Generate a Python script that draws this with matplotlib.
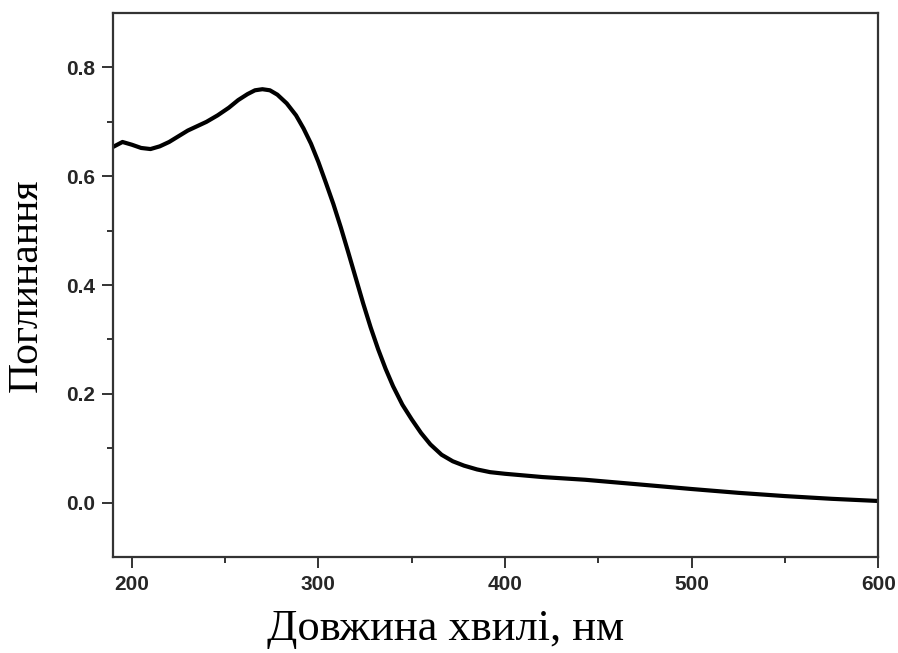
import numpy as np
import matplotlib.pyplot as plt

# Absorption spectrum, values
wavelength = [190, 195, 200, 205, 210, 215, 220, 230, 240, 246, 252, 257,
              262, 266, 270, 274, 278, 283, 288, 292, 296, 300, 304, 308,
              312, 316, 320, 324, 328, 332, 336, 340, 345, 350, 355, 360,
              366, 372, 378, 385, 392, 400, 420, 443, 470, 500, 525, 550,
              575, 600]
absorb = [0.654, 0.663, 0.658, 0.652, 0.650, 0.655, 0.663, 0.684, 0.700,
          0.712, 0.726, 0.740, 0.751, 0.758, 0.760, 0.758, 0.750, 0.734,
          0.712, 0.688, 0.660, 0.626, 0.588, 0.549, 0.506, 0.460, 0.413,
          0.366, 0.322, 0.282, 0.246, 0.214, 0.180, 0.153, 0.128, 0.107,
          0.088, 0.076, 0.068, 0.061, 0.056, 0.053, 0.047, 0.042, 0.034,
          0.025, 0.018, 0.012, 0.007, 0.003]

xticks = [200, 300, 400, 500, 600]
yticks = [0.0, 0.2, 0.4, 0.6, 0.8]

fig = plt.figure(figsize=(8.98, 6.53), dpi=100)
ax = fig.add_axes([0.126, 0.147, 0.852, 0.833])

ax.plot(wavelength, absorb, color='black', lw=3.0, solid_capstyle='round',
        solid_joinstyle='round')

ax.set_xlim(190, 600)
ax.set_ylim(-0.1, 0.9)
ax.set_xticks(xticks)
ax.set_xticks(np.arange(250, 600, 100), minor=True)
ax.set_yticks(yticks)
ax.set_yticks([0.1, 0.3, 0.5, 0.7], minor=True)
ax.set_yticklabels(['%.1f' % v for v in yticks])

for s in ax.spines.values():
    s.set_linewidth(1.6)
    s.set_color('#333333')
ax.tick_params(which='major', length=8, width=1.4, color='#333333',
               labelsize=15, labelcolor='#262626', pad=5)
ax.tick_params(which='minor', length=4, width=1.4, color='#333333')
for lab in ax.get_xticklabels() + ax.get_yticklabels():
    lab.set_family(['Liberation Sans', 'DejaVu Sans'])
    lab.set_fontweight('bold')

ax.set_xlabel('Довжина хвилі, нм', family=['Liberation Serif', 'DejaVu Serif'],
              fontsize=32)
ax.xaxis.set_label_coords(0.435, -0.095)
ax.set_ylabel('Поглинання', family=['Liberation Serif', 'DejaVu Serif'],
              fontsize=30)
ax.yaxis.set_label_coords(-0.088, 0.5)

fig.savefig('out.png', dpi=100)
